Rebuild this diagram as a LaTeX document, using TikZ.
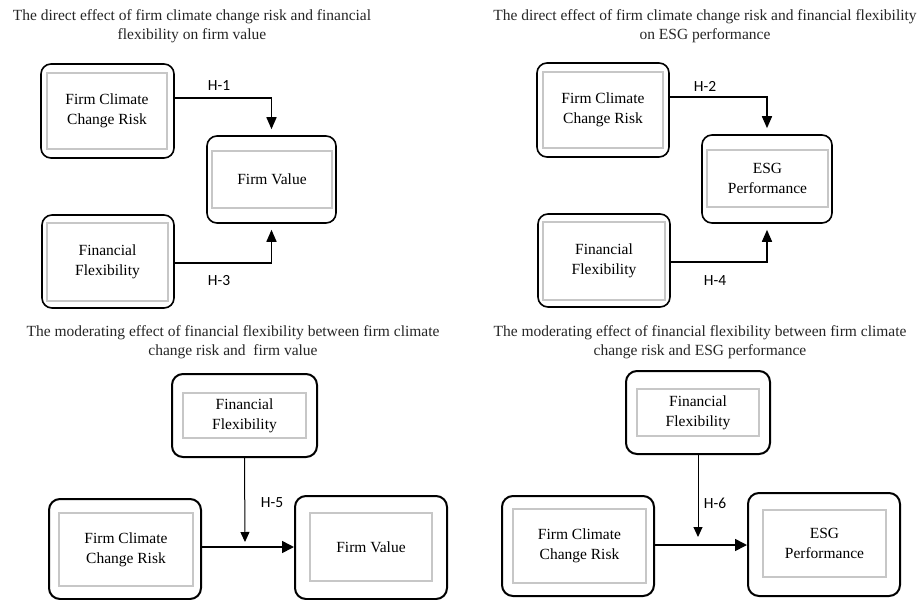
\documentclass[tikz,border=0pt]{standalone}
\usepackage{fontspec}
\setmainfont{Liberation Serif}
\newfontfamily\labfont{Carlito}
\usetikzlibrary{arrows.meta}
\begin{document}
\begin{tikzpicture}[x=1pt,y=-1pt,
  outerbox/.style={draw=black,line width=1.6pt,rounded corners=10pt,inner sep=0pt},
  outerthick/.style={draw=black,line width=2pt,rounded corners=11pt,inner sep=0pt},
  innerbox/.style={draw=black!22,line width=1.2pt,inner sep=0pt,align=center,
     font=\fontsize{15.5}{20}\selectfont},
  ttl/.style={align=center,font=\fontsize{15.5}{19}\selectfont,text=black!85},
  hlab/.style={font=\labfont\fontsize{15.5}{18}\selectfont,inner sep=0pt},
  arr/.style={line width=1.6pt,-{Triangle[width=10pt,length=12pt]}},
  arrthin/.style={line width=1pt,-{Triangle[width=9pt,length=10pt]}},
  arrmid/.style={line width=1.6pt,-{Triangle[width=12pt,length=12pt]}}
]
\useasboundingbox (0,0) rectangle (919,600);
\fill[white] (0,0) rectangle (919,600);

% ---------- Panel 1 ----------
\node[ttl] (t1) at (192,26.5) {The direct effect of firm climate change risk and financial\\flexibility on firm value};
\node[outerbox, minimum width=133pt, minimum height=94pt] (a1) at (107.5,111) {};
\node[innerbox, minimum width=120pt, minimum height=76pt] (a1i) at (107,111) {Firm Climate\\Change Risk};
\node[outerbox, minimum width=129pt, minimum height=87pt] (v1) at (271.5,179.5) {};
\node[innerbox, minimum width=120pt, minimum height=57pt] (v1i) at (272,179.5) {Firm Value};
\node[outerbox, minimum width=132pt, minimum height=93pt] (f1) at (108,261.5) {};
\node[innerbox, minimum width=121pt, minimum height=78pt] (f1i) at (107.5,262) {Financial\\Flexibility};
\draw[arr] ([yshift=13pt]a1.east) -| ([yshift=6pt]v1.north);
\draw[arr] ([yshift=-1.5pt]f1.east) -| ([yshift=-6pt]v1.south);
\node[hlab] (h1) at (219,86) {H-1};
\node[hlab] (h3) at (219,281) {H-3};

% ---------- Panel 2 ----------
\node[ttl] (t2) at (705,26.5) {The direct effect of firm climate change risk and financial flexibility\\on ESG performance};
\node[outerbox, minimum width=132pt, minimum height=94pt] (a2) at (603,110) {};
\node[innerbox, minimum width=120pt, minimum height=76pt] (a2i) at (603,110) {Firm Climate\\Change Risk};
\node[outerbox, minimum width=130pt, minimum height=88pt] (v2) at (767,179) {};
\node[innerbox, minimum width=121pt, minimum height=57pt] (v2i) at (767.5,178.5) {ESG\\Performance};
\node[outerbox, minimum width=132pt, minimum height=93pt] (f2) at (604,260.5) {};
\node[innerbox, minimum width=122pt, minimum height=78pt] (f2i) at (604,261) {Financial\\Flexibility};
\draw[arr] ([yshift=13pt]a2.east) -| ([yshift=6pt]v2.north);
\draw[arr] ([yshift=-1.5pt]f2.east) -| ([yshift=-6pt]v2.south);
\node[hlab] (h2) at (705,86) {H-2};
\node[hlab] (h4) at (715,281) {H-4};

% ---------- Panel 3 ----------
\node[ttl] (t3) at (233,342) {The moderating effect of financial flexibility between firm climate\\change risk and~ firm value};
\node[outerthick, minimum width=145pt, minimum height=83pt] (f3) at (244.5,415.5) {};
\node[innerbox, minimum width=123pt, minimum height=45pt] (f3i) at (244.5,415.5) {Financial\\Flexibility};
\node[outerthick, minimum width=152pt, minimum height=100pt] (a3) at (125,549) {};
\node[innerbox, minimum width=134pt, minimum height=73pt] (a3i) at (126,549.5) {Firm Climate\\Change Risk};
\node[outerthick, minimum width=152pt, minimum height=103pt] (v3) at (371,547.5) {};
\node[innerbox, minimum width=122pt, minimum height=68pt] (v3i) at (371,547) {Firm Value};
\coordinate (s3) at ([yshift=2pt]a3.east);
\coordinate (m3) at (245,542);
\draw[arrmid] (s3) -- (s3 -| v3.west);
\draw[arrthin] (f3.south) -- (m3);
\node[hlab] (h5) at (272,503) {H-5};

% ---------- Panel 4 ----------
\node[ttl] (t4) at (700,342) {The moderating effect of financial flexibility between firm climate\\change risk and ESG performance};
\node[outerthick, minimum width=144pt, minimum height=83pt] (f4) at (698,412.5) {};
\node[innerbox, minimum width=122pt, minimum height=47pt] (f4i) at (698,412.5) {Financial\\Flexibility};
\node[outerthick, minimum width=152pt, minimum height=100pt] (a4) at (578,546) {};
\node[innerbox, minimum width=133pt, minimum height=74pt] (a4i) at (579.5,546) {Firm Climate\\Change Risk};
\node[outerthick, minimum width=152pt, minimum height=103pt] (v4) at (824,544.5) {};
\node[innerbox, minimum width=123pt, minimum height=67pt] (v4i) at (824.5,543.5) {ESG\\Performance};
\coordinate (s4) at ([yshift=1pt]a4.east);
\coordinate (m4) at (698,537);
\draw[arrmid] (s4) -- (s4 -| v4.west);
\draw[arrthin] (f4.south) -- (m4);
\node[hlab] (h6) at (715,503) {H-6};
\end{tikzpicture}
\end{document}
